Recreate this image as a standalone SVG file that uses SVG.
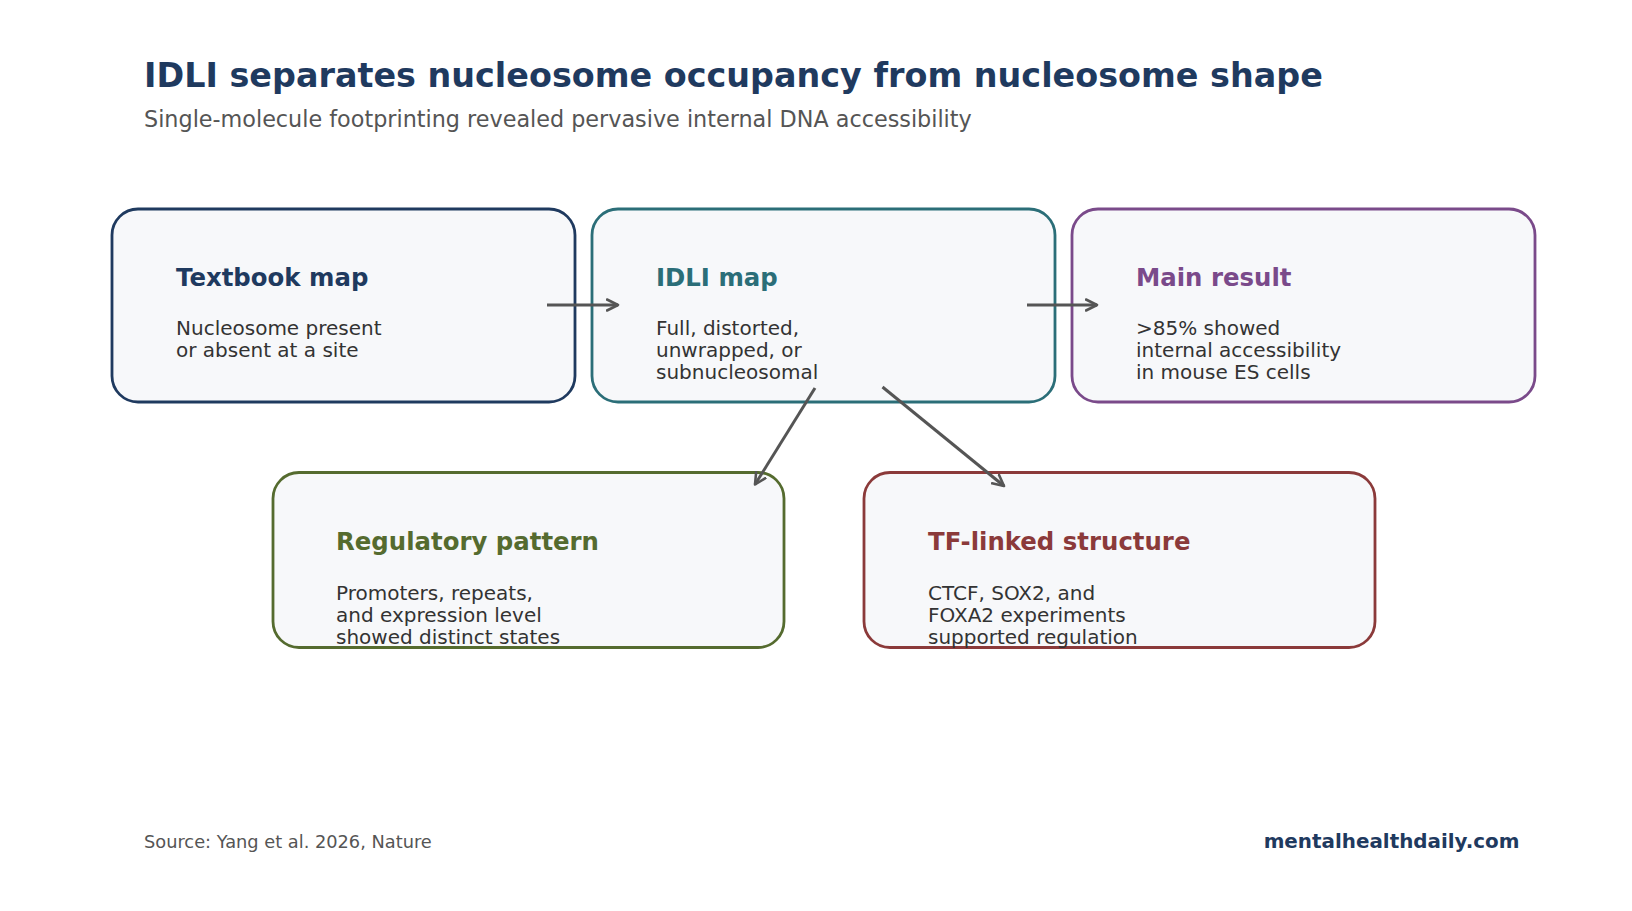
<svg xmlns="http://www.w3.org/2000/svg" width="1632" height="911" viewBox="0 0 1632 911">
<defs>
<style>
text{font-family:"DejaVu Sans","Liberation Sans",sans-serif}
.title{font-size:33.4px;font-weight:bold;fill:#1f3a5f}
.sub{font-size:22.3px;fill:#555}
.box{fill:#f7f8fa;stroke-width:2.8}
.nt{font-size:24.4px;font-weight:bold}
.nd{font-size:20px;fill:#333}
.conn{stroke:#555;stroke-width:3;fill:none;marker-end:url(#ah)}
.src{font-size:17.8px;fill:#555}
.brand{font-size:19.9px;font-weight:bold;fill:#1f3a5f}
</style>
<marker id="ah" viewBox="0 0 14 14" refX="12" refY="7" markerWidth="14" markerHeight="14" markerUnits="userSpaceOnUse" orient="auto">
<path d="M1,1.5 L12,7 L1,12.5" fill="none" stroke="#555" stroke-width="2.6" stroke-linecap="round" stroke-linejoin="round"/>
</marker>
</defs>
<rect width="1632" height="911" fill="#fff"/>
<text class="title" x="144" y="87">IDLI separates nucleosome occupancy from nucleosome shape</text>
<text class="sub" x="144" y="127">Single-molecule footprinting revealed pervasive internal DNA accessibility</text>

<g id="textbook">
<rect class="box" x="112" y="209" width="463" height="193" rx="26" stroke="#1f3a5f"/>
<text class="nt" x="176" y="286" fill="#1f3a5f">Textbook map</text>
<text class="nd" x="176" y="335">Nucleosome present</text>
<text class="nd" x="176" y="357">or absent at a site</text>
</g>
<g id="idli">
<rect class="box" x="592" y="209" width="463" height="193" rx="26" stroke="#2b6e78"/>
<text class="nt" x="656" y="286" fill="#2b6e78">IDLI map</text>
<text class="nd" x="656" y="335">Full, distorted,</text>
<text class="nd" x="656" y="357">unwrapped, or</text>
<text class="nd" x="656" y="379">subnucleosomal</text>
</g>
<g id="main">
<rect class="box" x="1072" y="209" width="463" height="193" rx="26" stroke="#7a4a8a"/>
<text class="nt" x="1136" y="286" fill="#7a4a8a">Main result</text>
<text class="nd" x="1136" y="335">&gt;85% showed</text>
<text class="nd" x="1136" y="357">internal accessibility</text>
<text class="nd" x="1136" y="379">in mouse ES cells</text>
</g>
<g id="regulatory">
<rect class="box" x="273" y="472.5" width="511" height="175" rx="26" stroke="#556b2f"/>
<text class="nt" x="336" y="550" fill="#556b2f">Regulatory pattern</text>
<text class="nd" x="336" y="599.5">Promoters, repeats,</text>
<text class="nd" x="336" y="621.5">and expression level</text>
<text class="nd" x="336" y="643.5">showed distinct states</text>
</g>
<g id="tf">
<rect class="box" x="864" y="472.5" width="511" height="175" rx="26" stroke="#8b3a3a"/>
<text class="nt" x="928" y="550" fill="#8b3a3a">TF-linked structure</text>
<text class="nd" x="928" y="599.5">CTCF, SOX2, and</text>
<text class="nd" x="928" y="621.5">FOXA2 experiments</text>
<text class="nd" x="928" y="643.5">supported regulation</text>
</g>

<g id="connectors">
<line class="conn" x1="547" y1="305" x2="618" y2="305"/>
<line class="conn" x1="1027" y1="305" x2="1097" y2="305"/>
<line class="conn" x1="815" y1="388" x2="755" y2="484.5"/>
<line class="conn" x1="882.5" y1="387" x2="1004" y2="486"/>
</g>

<text class="src" x="144" y="848">Source: Yang et al. 2026, Nature</text>
<text class="brand" x="1519.5" y="848" text-anchor="end">mentalhealthdaily.com</text>
</svg>
